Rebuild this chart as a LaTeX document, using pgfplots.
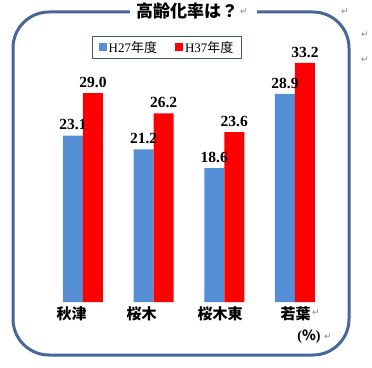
\documentclass[border=0pt]{standalone}
\usepackage{fontspec}
\setmainfont{Liberation Serif}
\newfontfamily\jp{Noto Sans CJK JP}
\newfontfamily\djv{DejaVu Sans}
\usepackage{pgfplots}
\pgfplotsset{compat=1.18}
\definecolor{barblue}{HTML}{558ED5}
\definecolor{barred}{HTML}{FF0000}
\definecolor{frame}{HTML}{46679A}
\definecolor{legframe}{HTML}{3F5A85}
\begin{document}
\begin{tikzpicture}[x=1pt,y=1pt]
\useasboundingbox (0,0) rectangle (372,367);
% rounded frame
\draw[line width=3pt, frame, rounded corners=36pt] (13,12) rectangle (349,355);
\fill[white] (130,348) rectangle (257,367);
\node[font=\jp\bfseries\fontsize{17}{17}\selectfont, inner sep=0pt] at (187,356) {高齢化率は？};
\begin{axis}[
  at={(12.33pt,65pt)}, anchor=south west,
  scale only axis, width=353.3pt, height=288pt,
  xmin=-1, xmax=4, ymin=0, ymax=40,
  ybar, bar width=20pt,
  axis line style={draw=none},
  ytick=\empty,
  xtick={-0.16,0.83,1.94,3.01},
  xticklabels={秋津,桜木,桜木東,若葉},
  xticklabel style={font=\jp\bfseries\fontsize{15}{15}\selectfont, yshift=-1pt},
  major tick length=0pt,
  clip=false,
  nodes near coords,
  nodes near coords style={font=\bfseries\fontsize{15.5}{15.5}\selectfont, black, yshift=2pt,
     /pgf/number format/.cd, fixed, fixed zerofill, precision=1, assume math mode=true},
  legend columns=2,
  legend style={at={(0.4378,0.8837)}, anchor=center, draw=legframe, line width=0.8pt,
     font=\fontsize{13}{13}\selectfont, inner xsep=6pt, inner ysep=3pt,
     /tikz/every even column/.append style={column sep=16pt}},
  legend image code/.code={\fill[#1] (0pt,-4pt) rectangle (8pt,4pt);},
]
\addplot[bar shift=-10pt, fill=barblue, draw=none]
  coordinates {(0,23.1) (1,21.2) (2,18.6) (3,28.9)};
\addlegendentry{H27{\jp 年度}}
\addplot[bar shift=10pt, fill=barred, draw=none]
  coordinates {(0,29.0) (1,26.2) (2,23.6) (3,33.2)};
\addlegendentry{H37{\jp 年度}}
\end{axis}
\node[font=\bfseries\fontsize{14}{14}\selectfont, inner sep=0pt] at (309,30) {({\jp\bfseries \%})};
% paragraph marks
\begin{scope}[gray, font=\djv\fontsize{9}{9}\selectfont, inner sep=0pt]
\node at (244,355) {↵};
\node at (345,355) {↵};
\node at (365,332) {↵};
\node at (365,307) {↵};
\node at (316,54) {↵};
\node at (328,30) {↵};
\end{scope}
\end{tikzpicture}
\end{document}
